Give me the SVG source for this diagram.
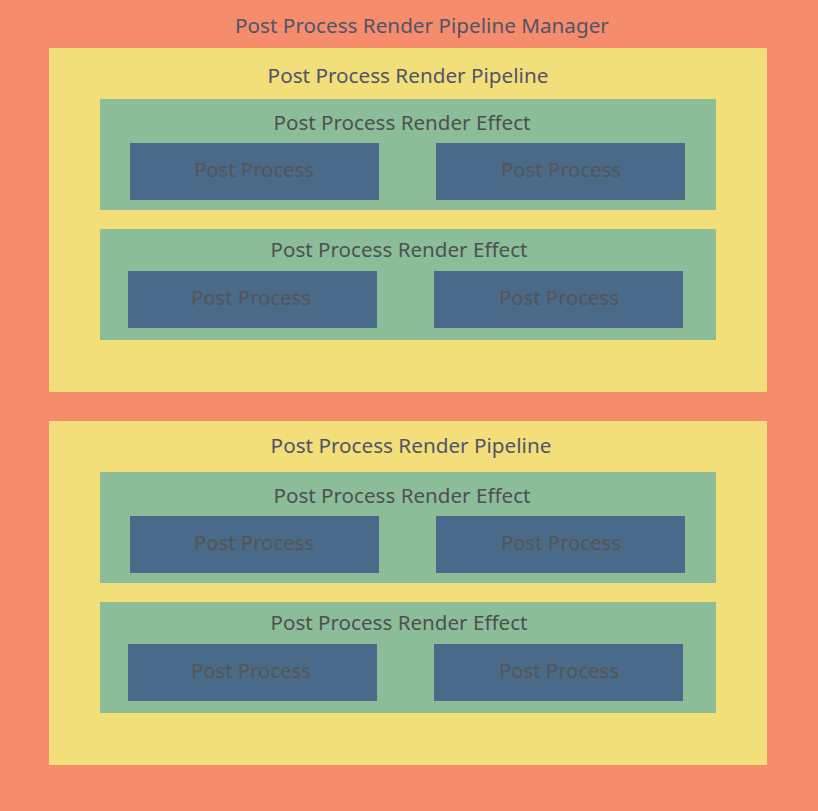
<svg xmlns="http://www.w3.org/2000/svg" width="818" height="811" viewBox="0 0 818 811">
<style>
.mgr{fill:#F58D6D}
.pipe{fill:#F2DF7A}
.eff{fill:#8BBE98}
.pp{fill:#4A6A8A}
text{font-family:"Noto Sans","Open Sans","Liberation Sans",sans-serif;text-anchor:middle}
.t1{font-size:20.7px;fill:#505469}
.t2{font-size:20.6px;fill:#4F5050}
.t3{font-size:20.3px;fill:#555555}
</style>
<g id="manager">
<rect class="mgr" x="0" y="0" width="818" height="811"/>
<text class="t1" x="422" y="33">Post Process Render Pipeline Manager</text>
</g>
<g id="pipeline1">
<rect class="pipe" x="49" y="48" width="718" height="344"/>
<text class="t1" x="408" y="83">Post Process Render Pipeline</text>
</g>
<g id="effect1a">
<rect class="eff" x="100" y="99" width="616" height="111"/>
<text class="t2" x="402" y="130">Post Process Render Effect</text>
</g>
<g id="pp1a1"><rect class="pp" x="130" y="143" width="249" height="57"/><text class="t3" x="254" y="177">Post Process</text></g>
<g id="pp1a2"><rect class="pp" x="436" y="143" width="249" height="57"/><text class="t3" x="561" y="177">Post Process</text></g>
<g id="effect1b">
<rect class="eff" x="100" y="229" width="616" height="111"/>
<text class="t2" x="399" y="257">Post Process Render Effect</text>
</g>
<g id="pp1b1"><rect class="pp" x="128" y="271" width="249" height="57"/><text class="t3" x="251" y="305">Post Process</text></g>
<g id="pp1b2"><rect class="pp" x="434" y="271" width="249" height="57"/><text class="t3" x="559" y="305">Post Process</text></g>
<g id="pipeline2">
<rect class="pipe" x="49" y="421" width="718" height="344"/>
<text class="t1" x="411" y="453">Post Process Render Pipeline</text>
</g>
<g id="effect2a">
<rect class="eff" x="100" y="472" width="616" height="111"/>
<text class="t2" x="402" y="503">Post Process Render Effect</text>
</g>
<g id="pp2a1"><rect class="pp" x="130" y="516" width="249" height="57"/><text class="t3" x="254" y="550">Post Process</text></g>
<g id="pp2a2"><rect class="pp" x="436" y="516" width="249" height="57"/><text class="t3" x="561" y="550">Post Process</text></g>
<g id="effect2b">
<rect class="eff" x="100" y="602" width="616" height="111"/>
<text class="t2" x="399" y="630">Post Process Render Effect</text>
</g>
<g id="pp2b1"><rect class="pp" x="128" y="644" width="249" height="57"/><text class="t3" x="251" y="678">Post Process</text></g>
<g id="pp2b2"><rect class="pp" x="434" y="644" width="249" height="57"/><text class="t3" x="559" y="678">Post Process</text></g>
<g id="connectors"></g>
</svg>
